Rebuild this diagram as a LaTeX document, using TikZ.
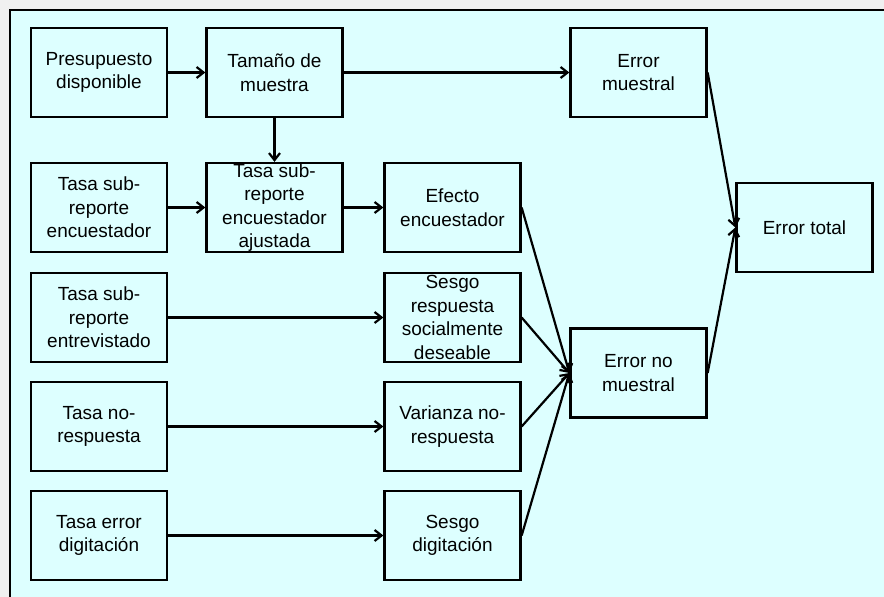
\documentclass[tikz,border=0pt]{standalone}
\usepackage{fontspec}
\setmainfont{Liberation Sans}
\usetikzlibrary{arrows.meta}
\definecolor{bgcyan}{RGB}{221,255,255}
\definecolor{outgray}{RGB}{240,240,240}
\tikzset{
  box/.style={draw=black, line width=2.3pt, minimum width=136pt, minimum height=89pt,
    inner sep=0pt, align=center, font=\fontsize{19}{23.5}\selectfont},
  conn/.style={draw=black, line width=2.2pt, -{Straight Barb[length=7pt,width=11pt,line width=2.2pt]}}
}
\begin{document}
\begin{tikzpicture}[x=1pt,y=-1pt]
\useasboundingbox (0,0) rectangle (884,597);
\fill[outgray] (0,0) rectangle (884,597);
\fill[bgcyan] (10,10) rectangle (884,597);
\draw[line width=2.3pt] (10,597) -- (10,10) -- (884,10);

\node[box] (pres) at (99,72.5) {Presupuesto\\disponible};
\node[box] (tam) at (274.5,72.5) {Tamaño de\\muestra};
\node[box] (em) at (638.5,72.5) {Error\\muestral};
\node[box] (tse) at (99,207.5) {Tasa sub-\\reporte\\encuestador};
\node[box] (taj) at (274.5,207.5) {Tasa sub-\\reporte\\encuestador\\ajustada};
\node[box] (efe) at (452.5,207.5) {Efecto\\encuestador};
\node[box] (et) at (804.5,227.5) {Error total};
\node[box] (tsv) at (99,317.5) {Tasa sub-\\reporte\\entrevistado};
\node[box] (srs) at (452.5,317.5) {Sesgo\\respuesta\\socialmente\\deseable};
\node[box] (tno) at (99,426.5) {Tasa no-\\respuesta};
\node[box] (var) at (452.5,426.5) {Varianza no-\\respuesta};
\node[box] (ted) at (99,535.5) {Tasa error\\digitación};
\node[box] (sdi) at (452.5,535.5) {Sesgo\\digitación};
\node[box] (enm) at (638.5,373) {Error no\\muestral};

\draw[conn] (pres) -- (tam);
\draw[conn] (tam) -- (em);
\draw[conn] (tam) -- (taj);
\draw[conn] (tse) -- (taj);
\draw[conn] (taj) -- (efe);
\draw[conn] (tsv) -- (srs);
\draw[conn] (tno) -- (var);
\draw[conn] (ted) -- (sdi);
\draw[conn] (efe.east) -- (enm.west);
\draw[conn] (srs.east) -- (enm.west);
\draw[conn] (var.east) -- (enm.west);
\draw[conn] (sdi.east) -- (enm.west);
\draw[conn] (em.east) -- (et.west);
\draw[conn] (enm.east) -- (et.west);
\end{tikzpicture}
\end{document}
